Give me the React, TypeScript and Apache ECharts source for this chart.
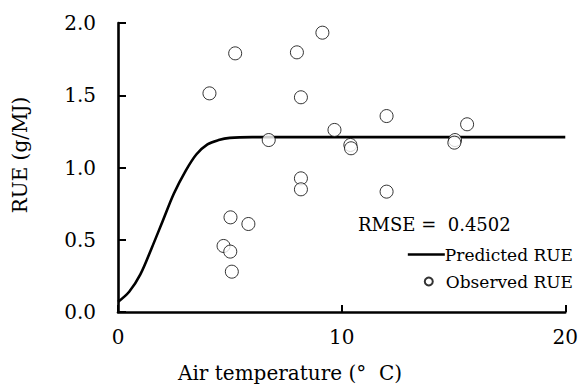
import React, { useEffect, useRef } from "react";
import * as echarts from "echarts";

const obsX = [5.24, 4.09, 8.0, 9.14, 8.18, 12.01, 9.68, 15.61, 6.74, 10.39, 10.42, 15.07, 15.04, 8.18, 8.18, 12.01, 5.03, 5.83, 4.72, 5.02, 5.09];
const obsY = [1.79, 1.513, 1.797, 1.933, 1.486, 1.356, 1.26, 1.299, 1.19, 1.156, 1.133, 1.19, 1.172, 0.925, 0.849, 0.833, 0.655, 0.609, 0.457, 0.418, 0.279];

const predX = [0, 0.5, 1, 1.5, 2, 2.5, 3, 3.5, 4, 4.5, 5, 6, 8, 10, 12, 15, 18, 20];
const predY = [0.07, 0.14, 0.26, 0.44, 0.63, 0.82, 0.97, 1.09, 1.16, 1.19, 1.205, 1.21, 1.21, 1.21, 1.21, 1.21, 1.21, 1.21];

const xTicks = [0, 10, 20];
const yTicks = [0, 0.5, 1.0, 1.5, 2.0];

const FONT = "DejaVu Serif";

export default function App() {
  const ref = useRef<HTMLDivElement>(null);
  useEffect(() => {
    if (!ref.current) return;
    const chart = echarts.init(ref.current, null, { renderer: "svg" });
    const axisLine = { show: true, onZero: false, lineStyle: { color: "#000", width: 2.6 } };
    chart.setOption({
      animation: false,
      backgroundColor: "#fff",
      textStyle: { fontFamily: FONT, color: "#000" },
      grid: { left: 118, right: 10, top: 23, bottom: 73 },
      xAxis: {
        type: "value",
        min: xTicks[0],
        max: xTicks[xTicks.length - 1],
        interval: 10,
        axisLine,
        axisTick: { show: true, inside: true, length: 7, lineStyle: { color: "#000", width: 2 } },
        axisLabel: { fontFamily: FONT, fontSize: 20, color: "#000", margin: 15 },
        splitLine: { show: false },
      },
      yAxis: {
        type: "value",
        min: yTicks[0],
        max: yTicks[yTicks.length - 1],
        interval: 0.5,
        axisLine,
        axisTick: { show: true, inside: true, length: 8, lineStyle: { color: "#000", width: 2 } },
        axisLabel: {
          fontFamily: FONT,
          fontSize: 20,
          color: "#000",
          margin: 22,
          formatter: (v: number) => v.toFixed(1),
        },
        splitLine: { show: false },
      },
      legend: [
        {
          data: [{ name: "Predicted RUE", icon: "rect" }],
          orient: "vertical",
          right: 8,
          top: 246,
          padding: 0,
          itemWidth: 37,
          itemHeight: 2.6,
          itemGap: 0,
          textStyle: { fontFamily: FONT, fontSize: 17, color: "#000", padding: [0, 0, 0, -5] },
        },
        {
          data: [{ name: "Observed RUE", icon: "circle" }],
          orient: "vertical",
          right: 8,
          top: 273,
          padding: 0,
          itemWidth: 24,
          itemHeight: 8,
          itemGap: 0,
          textStyle: { fontFamily: FONT, fontSize: 17, color: "#000" },
        },
      ],
      series: [
        {
          name: "Predicted RUE",
          type: "line",
          data: predX.map((x, i) => [x, predY[i]]),
          smooth: 0.35,
          showSymbol: false,
          symbol: "none",
          itemStyle: { color: "#000" },
          lineStyle: { color: "#000", width: 2.6 },
          z: 2,
        },
        {
          name: "Observed RUE",
          type: "scatter",
          data: obsX.map((x, i) => [x, obsY[i]]),
          symbol: "circle",
          symbolSize: 13,
          itemStyle: { color: "#fff", borderColor: "#000", borderWidth: 1 },
          z: 3,
        },
      ],
      graphic: [
        {
          type: "text",
          left: 358,
          top: 215,
          style: { text: "RMSE =  0.4502", fontFamily: FONT, fontSize: 18, fill: "#000" },
        },
        {
          type: "text",
          x: 290,
          y: 373,
          style: {
            text: "Air temperature (°  C)",
            fontFamily: FONT,
            fontSize: 20,
            fill: "#000",
            align: "center",
            verticalAlign: "middle",
          },
        },
        {
          type: "text",
          x: 20,
          y: 155,
          rotation: Math.PI / 2,
          style: {
            text: "RUE (g/MJ)",
            fontFamily: FONT,
            fontSize: 20,
            fill: "#000",
            align: "center",
            verticalAlign: "middle",
          },
        },
      ],
    });
    return () => chart.dispose();
  }, []);
  return (
    <div style={{ position: "absolute", left: 0, top: 0, width: 581, height: 385, background: "#fff" }}>
      <div ref={ref} style={{ width: 581, height: 385 }} />
    </div>
  );
}
